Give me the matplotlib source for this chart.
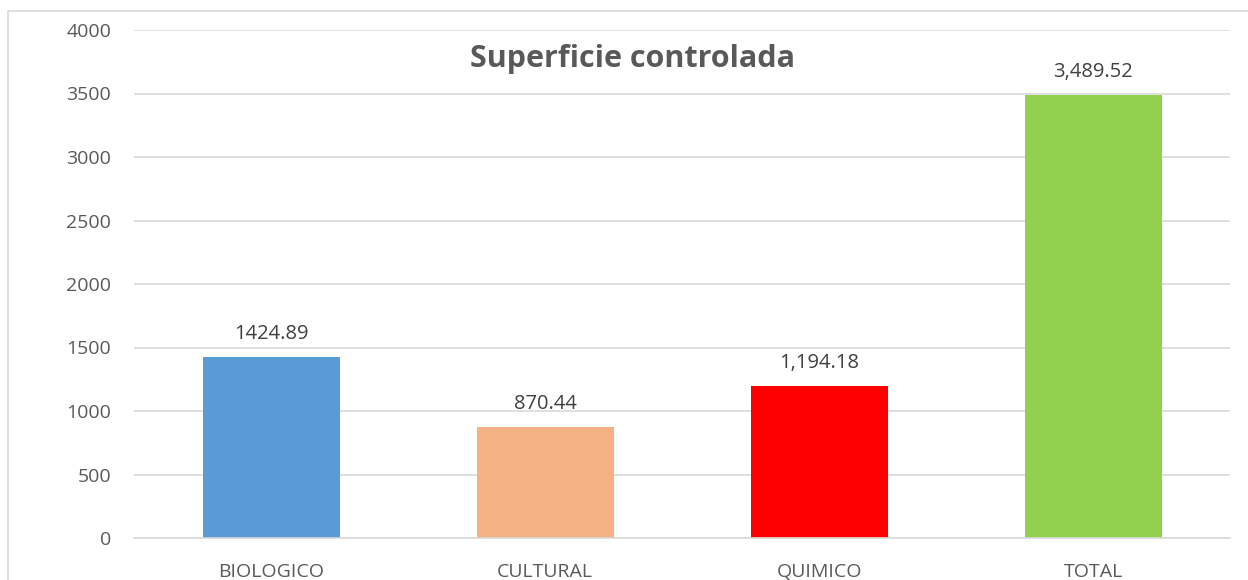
import matplotlib.pyplot as plt
from matplotlib.patches import Rectangle

plt.rcParams["font.family"] = ["Open Sans", "DejaVu Sans"]

categorias = ["BIOLOGICO", "CULTURAL", "QUIMICO", "TOTAL"]
valores = [1424.89, 870.44, 1194.18, 3489.52]
etiquetas = ["1424.89", "870.44", "1,194.18", "3,489.52"]
colores = ["#5B9BD5", "#F4B183", "#FF0000", "#92D050"]
yticks = [0, 500, 1000, 1500, 2000, 2500, 3000, 3500, 4000]

texto = "#595959"
gris = "#D9D9D9"

fig = plt.figure(figsize=(12.48, 5.8), dpi=100)
ax = fig.add_axes([134/1248, 1 - 538/580, (1230 - 134)/1248, (538 - 30)/580])

x = range(len(categorias))
barras = ax.bar(x, valores, width=0.5, color=colores, zorder=2)

for b, t in zip(barras, etiquetas):
    ax.annotate(t, (b.get_x() + b.get_width()/2, b.get_height()),
                xytext=(0, 13), textcoords="offset points",
                ha="center", va="baseline", fontsize=14.5, color="#404040")

ax.set_xlim(-0.5, len(categorias) - 0.5)
ax.set_ylim(0, 4000)
ax.set_yticks(yticks)
ax.set_xticks(list(x))
ax.set_xticklabels(categorias)
ax.tick_params(axis="y", length=0, pad=16.5, labelsize=14, labelcolor=texto)
ax.tick_params(axis="x", length=0, pad=28, labelsize=14, labelcolor=texto)
for lbl in ax.get_xticklabels():
    lbl.set_verticalalignment("baseline")

ax.grid(axis="y", color=gris, linewidth=1.2, zorder=0)
for s in ["top", "right", "left"]:
    ax.spines[s].set_visible(False)
ax.spines["bottom"].set_color(gris)
ax.spines["bottom"].set_linewidth(1.2)

fig.text(632/1248, 1 - 67/580, "Superficie controlada", ha="center", va="baseline",
         fontsize=22, fontweight="bold", color=texto)

# 外框
fig.patches.append(Rectangle((8/1248, -0.1), 1.2, 1 - 11/580 + 0.1,
                             transform=fig.transFigure, fill=False,
                             edgecolor=gris, linewidth=1.2))

fig.savefig("out.png", dpi=100)
